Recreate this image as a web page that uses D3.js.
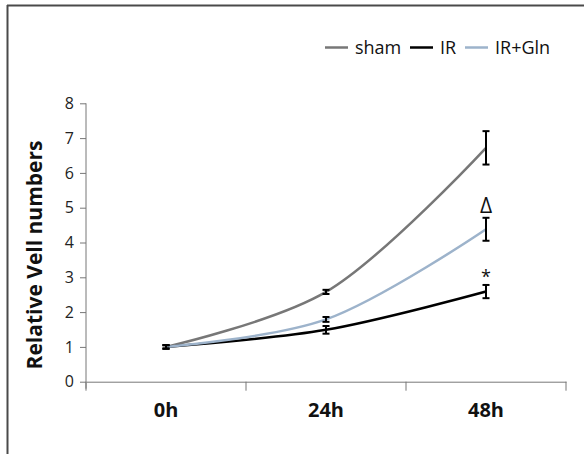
<!DOCTYPE html>
<html><head><meta charset="utf-8">
<script src="https://cdn.jsdelivr.net/npm/d3@7"></script>
<style>body{margin:0;background:#fff}svg{display:block}text{font-family:"Open Sans",Lato,sans-serif}</style>
</head><body>
<svg id="c" width="584" height="454"></svg>
<script>
const categories = ["0h", "24h", "48h"];
const seriesNames = ["sham", "IR", "IR+Gln"];
const shamValues = [1.0, 2.58, 6.72];
const shamErr = [0.05, 0.06, 0.48];
const irValues = [1.0, 1.49, 2.59];
const irErr = [0.05, 0.11, 0.19];
const glnValues = [1.0, 1.79, 4.38];
const glnErr = [0.05, 0.07, 0.33];
const yTicks = [0, 1, 2, 3, 4, 5, 6, 7, 8];
const marks = [{series: "IR+Gln", cat: "48h", label: "\u0394"}, {series: "IR", cat: "48h", label: "*"}];

const series = [
  {name: "sham", values: shamValues, err: shamErr, color: "#777777"},
  {name: "IR", values: irValues, err: irErr, color: "#000000"},
  {name: "IR+Gln", values: glnValues, err: glnErr, color: "#9db3cb"}
];

const svg = d3.select("#c");
svg.append("line").attr("x1", 7).attr("x2", 584).attr("y1", 5.5).attr("y2", 5.5).attr("stroke", "#4a4a4a").attr("stroke-width", 2);
svg.append("line").attr("x1", 7.5).attr("x2", 7.5).attr("y1", 5).attr("y2", 454).attr("stroke", "#4a4a4a").attr("stroke-width", 2);

const x = d3.scaleBand().domain(categories).range([86, 566]);
const y = d3.scaleLinear().domain([0, 8]).range([381.7, 103.3]);

const ya = svg.append("g").attr("transform", "translate(86,0)")
  .call(d3.axisLeft(y).tickValues(yTicks).tickSize(6).tickSizeOuter(0));
ya.select(".domain").attr("stroke", "#777").attr("d", `M0,${y(8)}V${y(0)+7}`);
ya.selectAll(".tick line").attr("stroke", "#777");
ya.selectAll(".tick text").attr("font-size", 16).attr("fill", "#222").attr("x", -12);

const xa = svg.append("g").attr("transform", `translate(0,${y(0)})`)
  .call(d3.axisBottom(x).tickSize(0).tickSizeOuter(0));
xa.select(".domain").attr("stroke", "#777");
xa.selectAll(".tick text").attr("font-size", 20).attr("font-weight", "bold").attr("fill", "#111").attr("dy", 32);
const bounds = [86].concat(categories.map(c => x(c) + x.bandwidth()));
xa.selectAll(".btick").data(bounds).enter().append("line")
  .attr("x1", d => d).attr("x2", d => d).attr("y1", 0).attr("y2", 9).attr("stroke", "#777");

svg.append("text").attr("transform", `translate(42,255) rotate(-90)`)
  .attr("text-anchor", "middle").attr("font-size", 21).attr("font-weight", "bold").attr("fill", "#111")
  .text("Relative Vell numbers");

const cx = c => x(c) + x.bandwidth() / 2;
const line = d3.line().x((d, i) => cx(categories[i])).y(d => y(d)).curve(d3.curveCatmullRom.alpha(0.5));

series.forEach(s => {
  svg.append("path").attr("d", line(s.values)).attr("fill", "none").attr("stroke", s.color).attr("stroke-width", 2.5);
});
series.forEach(s => {
  const g = svg.append("g");
  s.values.forEach((v, i) => {
    const px = cx(categories[i]);
    const t = y(v + s.err[i]), b = y(v - s.err[i]);
    g.append("line").attr("x1", px).attr("x2", px).attr("y1", t).attr("y2", b).attr("stroke", "#000").attr("stroke-width", 2);
    [t, b].forEach(yy => g.append("line").attr("x1", px - 3.5).attr("x2", px + 3.5).attr("y1", yy).attr("y2", yy).attr("stroke", "#000").attr("stroke-width", 2));
  });
});

marks.forEach(m => {
  const s = series.find(d => d.name === m.series);
  const i = categories.indexOf(m.cat);
  const isStar = m.label === "*";
  svg.append("text").attr("x", cx(m.cat)).attr("y", y(s.values[i] + s.err[i]) - (isStar ? 2 : 5))
    .attr("text-anchor", "middle").attr("font-size", isStar ? 18 : 21).attr("fill", "#111")
    .attr("font-family", "'DejaVu Serif', serif")
    .text(m.label);
});

const lg = svg.append("g");
const legX = [325, 410, 465];
series.forEach((s, i) => {
  lg.append("line").attr("x1", legX[i]).attr("x2", legX[i] + 23).attr("y1", 47.5).attr("y2", 47.5).attr("stroke", s.color).attr("stroke-width", 2.5);
  lg.append("text").attr("x", legX[i] + 30).attr("y", 53.5).attr("font-size", 18).attr("fill", "#111").text(seriesNames[i]);
});
</script>
</body></html>
